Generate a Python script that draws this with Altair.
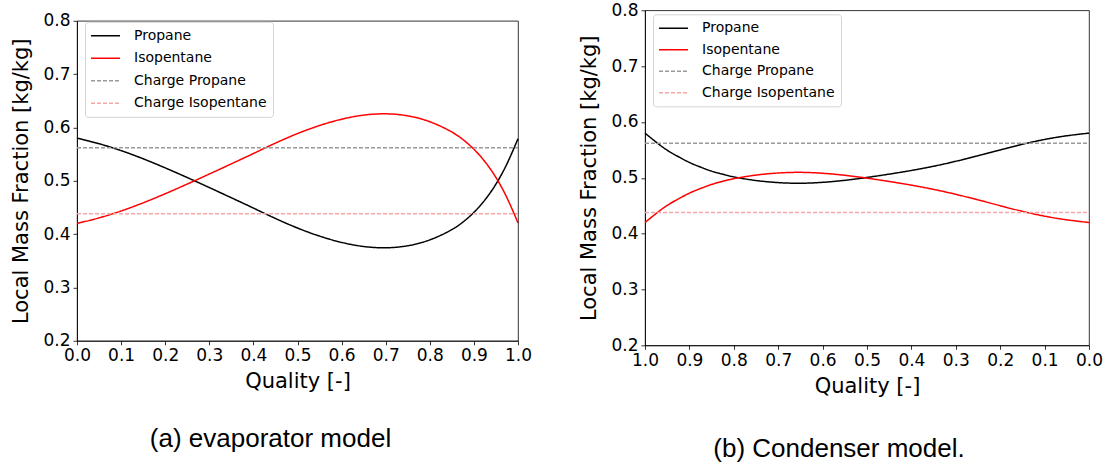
import altair as alt
import pandas as pd

# ---- data ----
# (a) evaporator model
evap_quality = [0.0, 0.05, 0.10, 0.15, 0.20, 0.25, 0.30, 0.35, 0.40, 0.45, 0.50, 0.55,
                0.60, 0.65, 0.70, 0.75, 0.80, 0.85, 0.875, 0.90, 0.925, 0.95, 0.975, 1.0]
evap_propane = [0.580, 0.570, 0.557, 0.5416, 0.5244, 0.5062, 0.4874, 0.4682, 0.4490, 0.4290,
                0.4110, 0.3958, 0.3838, 0.3760, 0.3734, 0.3770, 0.3878, 0.4075, 0.4219, 0.4400,
                0.4631, 0.4925, 0.5300, 0.579]
evap_isopentane = [0.420, 0.430, 0.443, 0.4584, 0.4756, 0.4938, 0.5126, 0.5318, 0.5510, 0.5710,
                   0.5890, 0.6042, 0.6162, 0.6240, 0.6266, 0.6230, 0.6122, 0.5925, 0.5781, 0.5600,
                   0.5369, 0.5075, 0.4700, 0.421]

# (b) condenser model
cond_quality = [0.0, 0.05, 0.10, 0.15, 0.20, 0.25, 0.30, 0.35, 0.40, 0.45, 0.50, 0.55, 0.60,
                0.65, 0.70, 0.75, 0.80, 0.825, 0.85, 0.875, 0.90, 0.925, 0.95, 0.975, 1.0]
cond_propane = [0.580, 0.5757, 0.5690, 0.5603, 0.5500, 0.5395, 0.5294, 0.5205, 0.5130, 0.5065,
                0.5005, 0.4952, 0.4916, 0.4897, 0.4910, 0.4947, 0.5012, 0.5063, 0.5115, 0.5192,
                0.5270, 0.5379, 0.5487, 0.5638, 0.580]
cond_isopentane = [0.420, 0.4243, 0.4310, 0.4397, 0.4500, 0.4605, 0.4706, 0.4795, 0.4870, 0.4935,
                   0.4995, 0.5048, 0.5084, 0.5103, 0.5090, 0.5053, 0.4988, 0.4937, 0.4885, 0.4808,
                   0.4730, 0.4621, 0.4513, 0.4362, 0.420]

charge_quality = [0.0, 1.0]
charge_propane = [0.562, 0.562]
charge_isopentane = [0.438, 0.438]

series = ["Propane", "Isopentane", "Charge Propane", "Charge Isopentane"]
series_colors = ["#000000", "#ff0000", "#9a9a9a", "#f5a6a6"]
series_dash = [[1, 0], [1, 0], [4, 2], [4, 2]]
series_width = [1.5, 1.5, 1.0, 1.0]

x_ticks = [0.0, 0.1, 0.2, 0.3, 0.4, 0.5, 0.6, 0.7, 0.8, 0.9, 1.0]
y_ticks = [0.2, 0.3, 0.4, 0.5, 0.6, 0.7, 0.8]
captions = ["(a) evaporator model", "(b) Condenser model."]


def build_frame(quality, propane, isopentane):
    rows = []
    for q, v in zip(quality, propane):
        rows.append({"q": q, "v": v, "series": series[0]})
    for q, v in zip(quality, isopentane):
        rows.append({"q": q, "v": v, "series": series[1]})
    for q, v in zip(charge_quality, charge_propane):
        rows.append({"q": q, "v": v, "series": series[2]})
    for q, v in zip(charge_quality, charge_isopentane):
        rows.append({"q": q, "v": v, "series": series[3]})
    return pd.DataFrame(rows)


def panel(df, caption, width, height, reverse, legend_x, legend_y, row_pad,
          cap_offset, cap_dx):
    legend = alt.Legend(
        title=None, orient="none", legendX=legend_x, legendY=legend_y,
        symbolType="M-2.07,0H2.07", symbolSize=196, symbolStrokeWidth=1.4,
        symbolOffset=6.5, labelOffset=20.5,
        labelFont="DejaVu Sans", labelFontSize=14, labelColor="black",
        padding=6, rowPadding=row_pad,
        fillColor="white", strokeColor="#d4d4d4", cornerRadius=3,
    )
    return alt.Chart(df).mark_line(interpolate="basis").encode(
        x=alt.X("q:Q",
                scale=alt.Scale(domain=[0, 1], reverse=reverse, nice=False),
                axis=alt.Axis(values=x_ticks, format=".1f", title="Quality [-]")),
        y=alt.Y("v:Q",
                scale=alt.Scale(domain=[0.2, 0.8], nice=False, zero=False),
                axis=alt.Axis(values=y_ticks, format=".1f",
                              title="Local Mass Fraction [kg/kg]")),
        color=alt.Color("series:N", scale=alt.Scale(domain=series, range=series_colors),
                        legend=legend),
        strokeDash=alt.StrokeDash("series:N", scale=alt.Scale(domain=series, range=series_dash),
                                  legend=legend),
        strokeWidth=alt.StrokeWidth("series:N", scale=alt.Scale(domain=series, range=series_width),
                                    legend=None),
    ).properties(
        width=width, height=height,
        title=alt.TitleParams(text=caption, orient="bottom", anchor="middle",
                              font="Liberation Sans", fontSize=26, fontWeight="normal",
                              color="black", offset=cap_offset, dx=cap_dx),
    )


left = panel(build_frame(evap_quality, evap_propane, evap_isopentane), captions[0],
             441, 320, False, 8, 1, 7.5, 34, -27)
right = panel(build_frame(cond_quality, cond_propane, cond_isopentane), captions[1],
              444, 335, True, 8, 4, 6.5, 40, -28)

chart = alt.hconcat(left, right, spacing=46, center=True).resolve_scale(
    color="independent", strokeDash="independent", strokeWidth="independent"
).resolve_legend(
    color="independent", strokeDash="independent"
).properties(
    padding={"left": 10, "top": 0, "right": 0, "bottom": 0}
).configure_view(
    stroke="black", strokeWidth=0.8
).configure_axis(
    labelFont="DejaVu Sans", labelFontSize=17, labelColor="black",
    titleFont="DejaVu Sans", titleFontSize=21, titleFontWeight="normal", titleColor="black",
    tickColor="black", tickSize=4, tickWidth=0.8,
    domainColor="black", domainWidth=0.8, grid=False,
    labelFlush=False, labelOverlap=False, labelPadding=3,
).configure_axisX(
    titlePadding=7
).configure_axisY(
    titlePadding=11
)

chart.save("out.html", embed_options={"renderer": "svg", "actions": False})
